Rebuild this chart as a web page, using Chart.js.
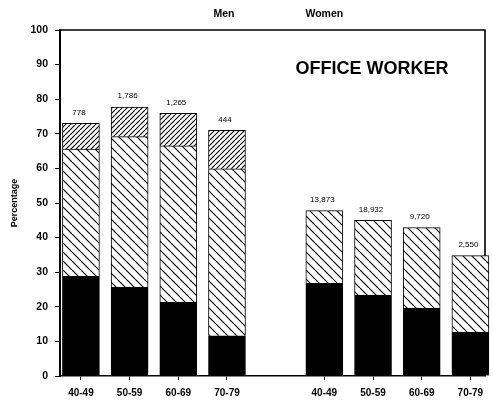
<!DOCTYPE html>
<html>
<head>
<meta charset="utf-8">
<script src="https://cdn.jsdelivr.net/npm/chart.js@4.4.1/dist/chart.umd.min.js"></script>
<style>
  html, body { margin: 0; padding: 0; background: #fff; }
  #wrap { width: 493px; height: 405px; }
</style>
</head>
<body>
<div id="wrap"><canvas id="chart"></canvas></div>
<script>
// Age groups (men block, gap, women block)
const ageGroups = ['40-49', '50-59', '60-69', '70-79'];

// Stacked segment heights, in percent
const menSolid   = [28.8, 25.7, 21.4, 11.6];
const menLight   = [36.8, 43.5, 45.1, 48.3];
const menDense   = [7.4, 8.5, 9.4, 11.1];
const womenSolid = [26.8, 23.4, 19.6, 12.7];
const womenLight = [21.0, 21.6, 23.3, 22.1];

// Number of workers printed above each bar
const menCounts   = [778, 1786, 1265, 444];
const womenCounts = [13873, 18932, 9720, 2550];

const yTicks = [0, 10, 20, 30, 40, 50, 60, 70, 80, 90, 100];

// slot positions on the x axis: men 1-4, empty slot 5, women 6-9
const menPos = ageGroups.map((g, i) => i + 1);
const womenPos = ageGroups.map((g, i) => i + 6);
const tickLabel = {};
menPos.forEach((p, i) => tickLabel[p] = ageGroups[i]);
womenPos.forEach((p, i) => tickLabel[p] = ageGroups[i]);

Chart.defaults.font.family = "'Liberation Sans', Arial, sans-serif";
Chart.defaults.color = '#000';

function hatch(size, dir) {
  const c = document.createElement('canvas');
  c.width = size; c.height = size;
  const g = c.getContext('2d');
  g.fillStyle = '#fff';
  g.fillRect(0, 0, size, size);
  g.strokeStyle = '#000';
  g.lineWidth = 1.1;
  g.beginPath();
  for (let k = -1; k <= 1; k++) {
    if (dir === 'back') {
      g.moveTo(k * size, 0); g.lineTo(k * size + size, size);
    } else {
      g.moveTo(k * size, size); g.lineTo(k * size + size, 0);
    }
  }
  g.stroke();
  return g.createPattern(c, 'repeat');
}
const lightHatch = hatch(9, 'back');
const denseHatch = hatch(5, 'fwd');

const pts = (pos, vals) => vals.map((v, i) => ({ x: pos[i], y: v }));

const common = { borderColor: '#000', borderWidth: 1, barThickness: 37, clip: false };

const frame = {
  id: 'frame',
  beforeDatasetsDraw(chart) {
    const { ctx, chartArea: a } = chart;
    ctx.save();
    ctx.strokeStyle = '#000';
    ctx.lineWidth = 1.6;
    ctx.beginPath();
    ctx.moveTo(a.left, a.top);
    ctx.lineTo(a.right, a.top);
    ctx.lineTo(a.right, a.bottom);
    ctx.stroke();
    ctx.restore();
  },
  afterDraw(chart) {
    const { ctx } = chart;
    const xs = chart.scales.x, ys = chart.scales.y;
    ctx.save();
    ctx.fillStyle = '#000';
    ctx.textAlign = 'center';
    ctx.textBaseline = 'middle';

    // counts above bars
    ctx.font = "8px 'Liberation Sans', Arial, sans-serif";
    menCounts.forEach((n, i) => {
      const top = menSolid[i] + menLight[i] + menDense[i];
      ctx.fillText(n.toLocaleString('en-US'), xs.getPixelForValue(menPos[i]) - 2, ys.getPixelForValue(top) - 11);
    });
    womenCounts.forEach((n, i) => {
      const top = womenSolid[i] + womenLight[i];
      ctx.fillText(n.toLocaleString('en-US'), xs.getPixelForValue(womenPos[i]) - 2, ys.getPixelForValue(top) - 11);
    });

    // group headings above the frame
    ctx.font = "bold 10.5px 'Liberation Sans', Arial, sans-serif";
    ctx.fillText('Men', xs.getPixelForValue(menPos[3]) - 3, 14);
    ctx.fillText('Women', xs.getPixelForValue(womenPos[0]), 14);

    ctx.font = "bold 18px 'Liberation Sans', Arial, sans-serif";
    ctx.textBaseline = 'alphabetic';
    ctx.fillText('OFFICE WORKER', 372, 74);
    ctx.restore();
  }
};

new Chart(document.getElementById('chart'), {
  type: 'bar',
  data: {
    datasets: [
      { ...common, data: pts(menPos, menSolid).concat(pts(womenPos, womenSolid)), backgroundColor: '#000' },
      { ...common, data: pts(menPos, menLight).concat(pts(womenPos, womenLight)), backgroundColor: lightHatch },
      { ...common, data: pts(menPos, menDense), backgroundColor: denseHatch }
    ]
  },
  options: {
    responsive: true,
    maintainAspectRatio: false,
    animation: false,
    layout: { padding: { top: 30, right: 8, left: 0, bottom: 0 } },
    plugins: { legend: { display: false }, tooltip: { enabled: false } },
    scales: {
      x: {
        type: 'linear',
        stacked: true,
        offset: false,
        min: 0.57,
        max: 9.3,
        afterBuildTicks: (s) => { s.ticks = menPos.concat(womenPos).map(v => ({ value: v })); },
        afterFit: (s) => { s.height = 29; },
        ticks: {
          autoSkip: false,
          maxRotation: 0,
          padding: 7,
          font: { size: 10, weight: 'bold' },
          callback: (v) => tickLabel[v] || ''
        },
        grid: { drawOnChartArea: false, color: '#000', tickLength: 4, offset: false },
        border: { color: '#000', width: 1.6 }
      },
      y: {
        stacked: true,
        min: 0,
        max: 100,
        afterBuildTicks: (s) => { s.ticks = yTicks.map(v => ({ value: v })); },
        afterFit: (s) => { s.width = 60; },
        ticks: { padding: 7, font: { size: 10.5, weight: 'bold' } },
        grid: { drawOnChartArea: false, color: '#000', tickLength: 5 },
        border: { color: '#000', width: 2 },
        title: {
          display: true,
          text: 'Percentage',
          font: { size: 9, weight: 'bold' },
          padding: { top: 9, bottom: 0 }
        }
      }
    }
  },
  plugins: [frame]
});
</script>
</body>
</html>
